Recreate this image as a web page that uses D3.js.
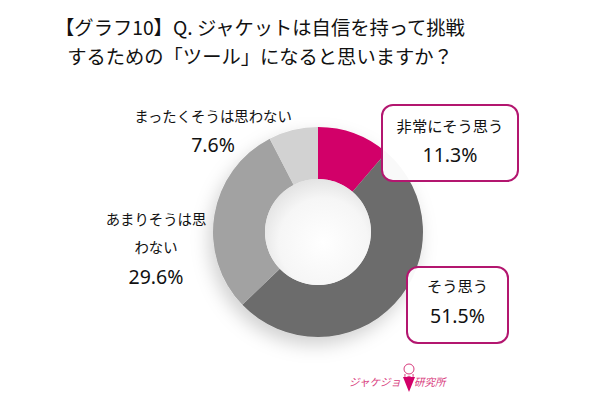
<!DOCTYPE html>
<html>
<head>
<meta charset="utf-8">
<script src="https://cdn.jsdelivr.net/npm/d3@7"></script>
<style>
  html, body { margin: 0; padding: 0; background: #fff; }
  svg { display: block; }
</style>
</head>
<body>
<svg id="chart"></svg>
<script>
// --- Data ---
const categories = ["非常にそう思う", "そう思う", "あまりそうは思わない", "まったくそうは思わない"];
const values = [11.3, 51.5, 29.6, 7.6];
const sliceColors = ["#d20069", "#6c6c6c", "#a2a2a2", "#d2d2d2"];
const titleLines = ["【グラフ10】Q. ジャケットは自信を持って挑戦", "するための「ツール」になると思いますか？"];

const W = 600, H = 400;
const FONT = "'Noto Sans CJK JP', 'Noto Sans', sans-serif";
const NUM_FONT = "'Noto Sans', 'Open Sans', sans-serif";
const cx = 318, cy = 232, R = 105, r = 53;

const svg = d3.select("#chart").attr("width", W).attr("height", H);
const defs = svg.append("defs");

// soft shadow under the ring
const sh = defs.append("filter").attr("id", "shadow")
  .attr("x", "-30%").attr("y", "-30%").attr("width", "160%").attr("height", "160%");
sh.append("feDropShadow").attr("dx", -4).attr("dy", 8).attr("stdDeviation", 9)
  .attr("flood-color", "#000").attr("flood-opacity", 0.18);

// hole shading
const hg = defs.append("radialGradient").attr("id", "hole")
  .attr("cx", "55%").attr("cy", "60%").attr("r", "60%");
hg.append("stop").attr("offset", "0%").attr("stop-color", "#ffffff");
hg.append("stop").attr("offset", "70%").attr("stop-color", "#f6f6f6");
hg.append("stop").attr("offset", "100%").attr("stop-color", "#e4e4e4");

svg.append("rect").attr("width", W).attr("height", H).attr("fill", "#fff");

// --- Title ---
svg.append("g").selectAll("text").data(titleLines).join("text")
  .attr("x", 260).attr("y", (d, i) => 35 + i * 29)
  .attr("text-anchor", "middle")
  .attr("font-family", FONT).attr("font-size", 19.3)
  .attr("fill", "#111")
  .text(d => d);

// --- Donut ---
const pie = d3.pie().sort(null).value(d => d);
const arc = d3.arc().innerRadius(r).outerRadius(R);
const ring = svg.append("g").attr("transform", `translate(${cx},${cy})`);

ring.append("g").attr("filter", "url(#shadow)")
  .selectAll("path").data(pie(values)).join("path")
  .attr("d", arc)
  .attr("fill", (d, i) => sliceColors[i]);

ring.append("circle").attr("r", r).attr("fill", "url(#hole)");

// --- Labels ---
// lines: [text, baselineY, isNumber]
function addLines(g, lines, x, size) {
  g.selectAll(null).data(lines).join("text")
    .attr("x", x).attr("y", d => d[1])
    .attr("text-anchor", "middle")
    .attr("font-family", d => d[2] ? NUM_FONT : FONT)
    .attr("font-size", d => d[2] ? 19.5 : size)
    .attr("fill", "#111")
    .text(d => d[0]);
}
const pct = v => v.toFixed(1) + "%";

const boxes = [
  { x: 382, y: 105, w: 136, h: 76, lines: [[categories[0], 132], [pct(values[0]), 162, true]] },
  { x: 407, y: 267, w: 101, h: 76, lines: [["そう思う", 292], [pct(values[1]), 323, true]] }
];
boxes.forEach(b => {
  const g = svg.append("g");
  g.append("rect").attr("x", b.x).attr("y", b.y).attr("width", b.w).attr("height", b.h)
    .attr("rx", 11).attr("fill", "#fff").attr("fill-opacity", 0.96)
    .attr("stroke", "#b3166f").attr("stroke-width", 2);
  addLines(g, b.lines, b.x + b.w / 2, 15.3);
});

addLines(svg.append("g"), [[categories[3], 122], [pct(values[3]), 152, true]], 213, 14.4);
addLines(svg.append("g"), [["あまりそうは思", 225], ["わない", 253], [pct(values[2]), 284, true]], 156, 14.4);

// --- Logo ---
const logo = svg.append("g").attr("fill", "none").attr("stroke", "#d83a7c").attr("stroke-width", 1);
logo.append("circle").attr("cx", 409).attr("cy", 369).attr("r", 5);
logo.append("path").attr("d", "M405,374 Q404,380 409,376 Q414,380 413,374");
logo.append("path").attr("d", "M403,377 L409,392 L415,377").attr("fill", "#d20069").attr("stroke", "none");
svg.append("text").attr("x", 401).attr("y", 386).attr("text-anchor", "end")
  .attr("font-family", FONT).attr("font-size", 10.5).attr("font-style", "italic")
  .attr("fill", "#d83a7c").text("ジャケジョ");
svg.append("text").attr("x", 414).attr("y", 386)
  .attr("font-family", FONT).attr("font-size", 10.5).attr("font-style", "italic")
  .attr("fill", "#d83a7c").text("研究所");
</script>
</body>
</html>
